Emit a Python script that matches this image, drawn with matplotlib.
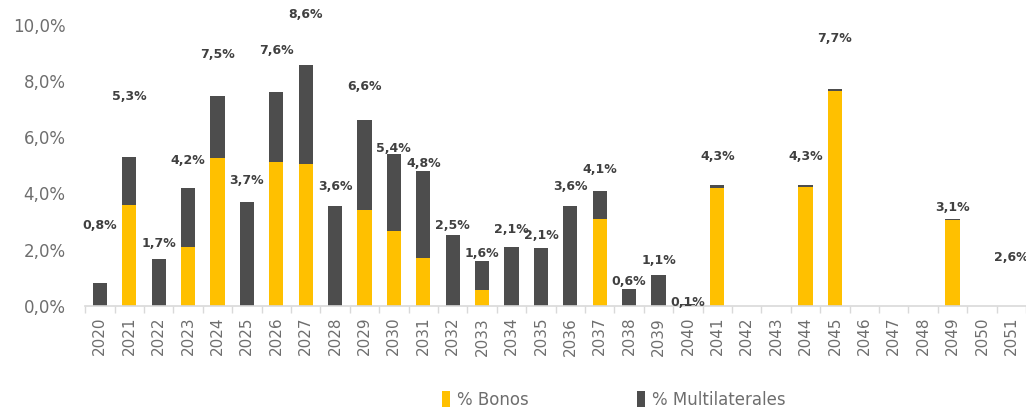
import matplotlib
matplotlib.use("Agg")
import matplotlib.pyplot as plt
import numpy as np

# --- data ---
years = [str(y) for y in range(2020, 2052)]
bonos = [0, 3.6, 0, 2.1, 5.25, 0, 5.1, 5.05, 0, 3.4, 2.65, 1.7, 0, 0.55, 0, 0,
         0, 3.1, 0, 0, 0, 4.2, 0, 0, 4.22, 7.65, 0, 0, 0, 3.05, 0, 0]
multilaterales = [0.8, 1.7, 1.65, 2.1, 2.2, 3.7, 2.5, 3.5, 3.55, 3.2, 2.75, 3.1,
                  2.5, 1.05, 2.1, 2.05, 3.55, 1.0, 0.6, 1.1, 0.05, 0.1, 0, 0,
                  0.06, 0.05, 0, 0, 0, 0.05, 0, 0]
totales = [0.8, 5.3, 1.7, 4.2, 7.5, 3.7, 7.6, 8.6, 3.6, 6.6, 5.4, 4.8, 2.5, 1.6,
           2.1, 2.1, 3.6, 4.1, 0.6, 1.1, 0.1, 4.3, None, None, 4.3, 7.7, None,
           None, None, 3.1, None, 2.6]
# height where each total label sits (Excel placed them loosely)
label_y = [2.85, 7.45, 2.2, 5.15, 8.95, 4.45, 9.1, 10.35, 4.25, 7.8, 5.6, 5.05,
           2.85, 1.85, 2.7, 2.5, 4.25, 4.85, 0.85, 1.6, 0.12, 5.3, None, None,
           5.3, 9.5, None, None, None, 3.5, None, 1.7]

YELLOW = "#FFC000"
DARK = "#4D4D4D"
GRAY = "#6E6E6E"

x = np.arange(len(years))

fig = plt.figure(figsize=(10.26, 4.12), dpi=100)
ax = fig.add_axes([0.083, 0.258, 0.917, 0.682])

ax.bar(x, bonos, width=0.48, color=YELLOW, label="% Bonos", zorder=2)
ax.bar(x, multilaterales, width=0.48, bottom=bonos, color=DARK,
       label="% Multilaterales", zorder=2)

for xi, t, ly in zip(x, totales, label_y):
    if t is None:
        continue
    ax.text(xi, ly, f"{t:.1f}%".replace(".", ","), ha="center", va="center",
            fontsize=9, fontweight="bold", color="#404040", zorder=3,
            clip_on=False)

ax.set_ylim(0, 10)
ax.set_xlim(-0.5, 31.2)
ax.set_yticks(np.arange(0, 10.1, 2))
ax.set_yticklabels([f"{v:.1f}%".replace(".", ",") for v in np.arange(0, 10.1, 2)])
ax.set_xticks(x)
ax.set_xticklabels(years, rotation=90)
ax.set_xticks(np.arange(-0.5, 31.6, 1), minor=True)

ax.tick_params(axis="y", length=0, labelsize=12, labelcolor=GRAY, pad=14)
ax.tick_params(axis="x", which="major", length=0, labelsize=11,
               labelcolor=GRAY, pad=8)
ax.tick_params(axis="x", which="minor", length=5, color="#D9D9D9", width=1)

for side in ["top", "right", "left"]:
    ax.spines[side].set_visible(False)
ax.spines["bottom"].set_color("#D9D9D9")
ax.spines["bottom"].set_linewidth(1.2)

fig.legend(loc="center", bbox_to_anchor=(0.598, 0.03), ncol=2, frameon=False,
           fontsize=12, labelcolor=GRAY, handlelength=0.5, handleheight=1.1,
           handletextpad=0.4, columnspacing=6.5)

fig.savefig("out.png", dpi=100)
